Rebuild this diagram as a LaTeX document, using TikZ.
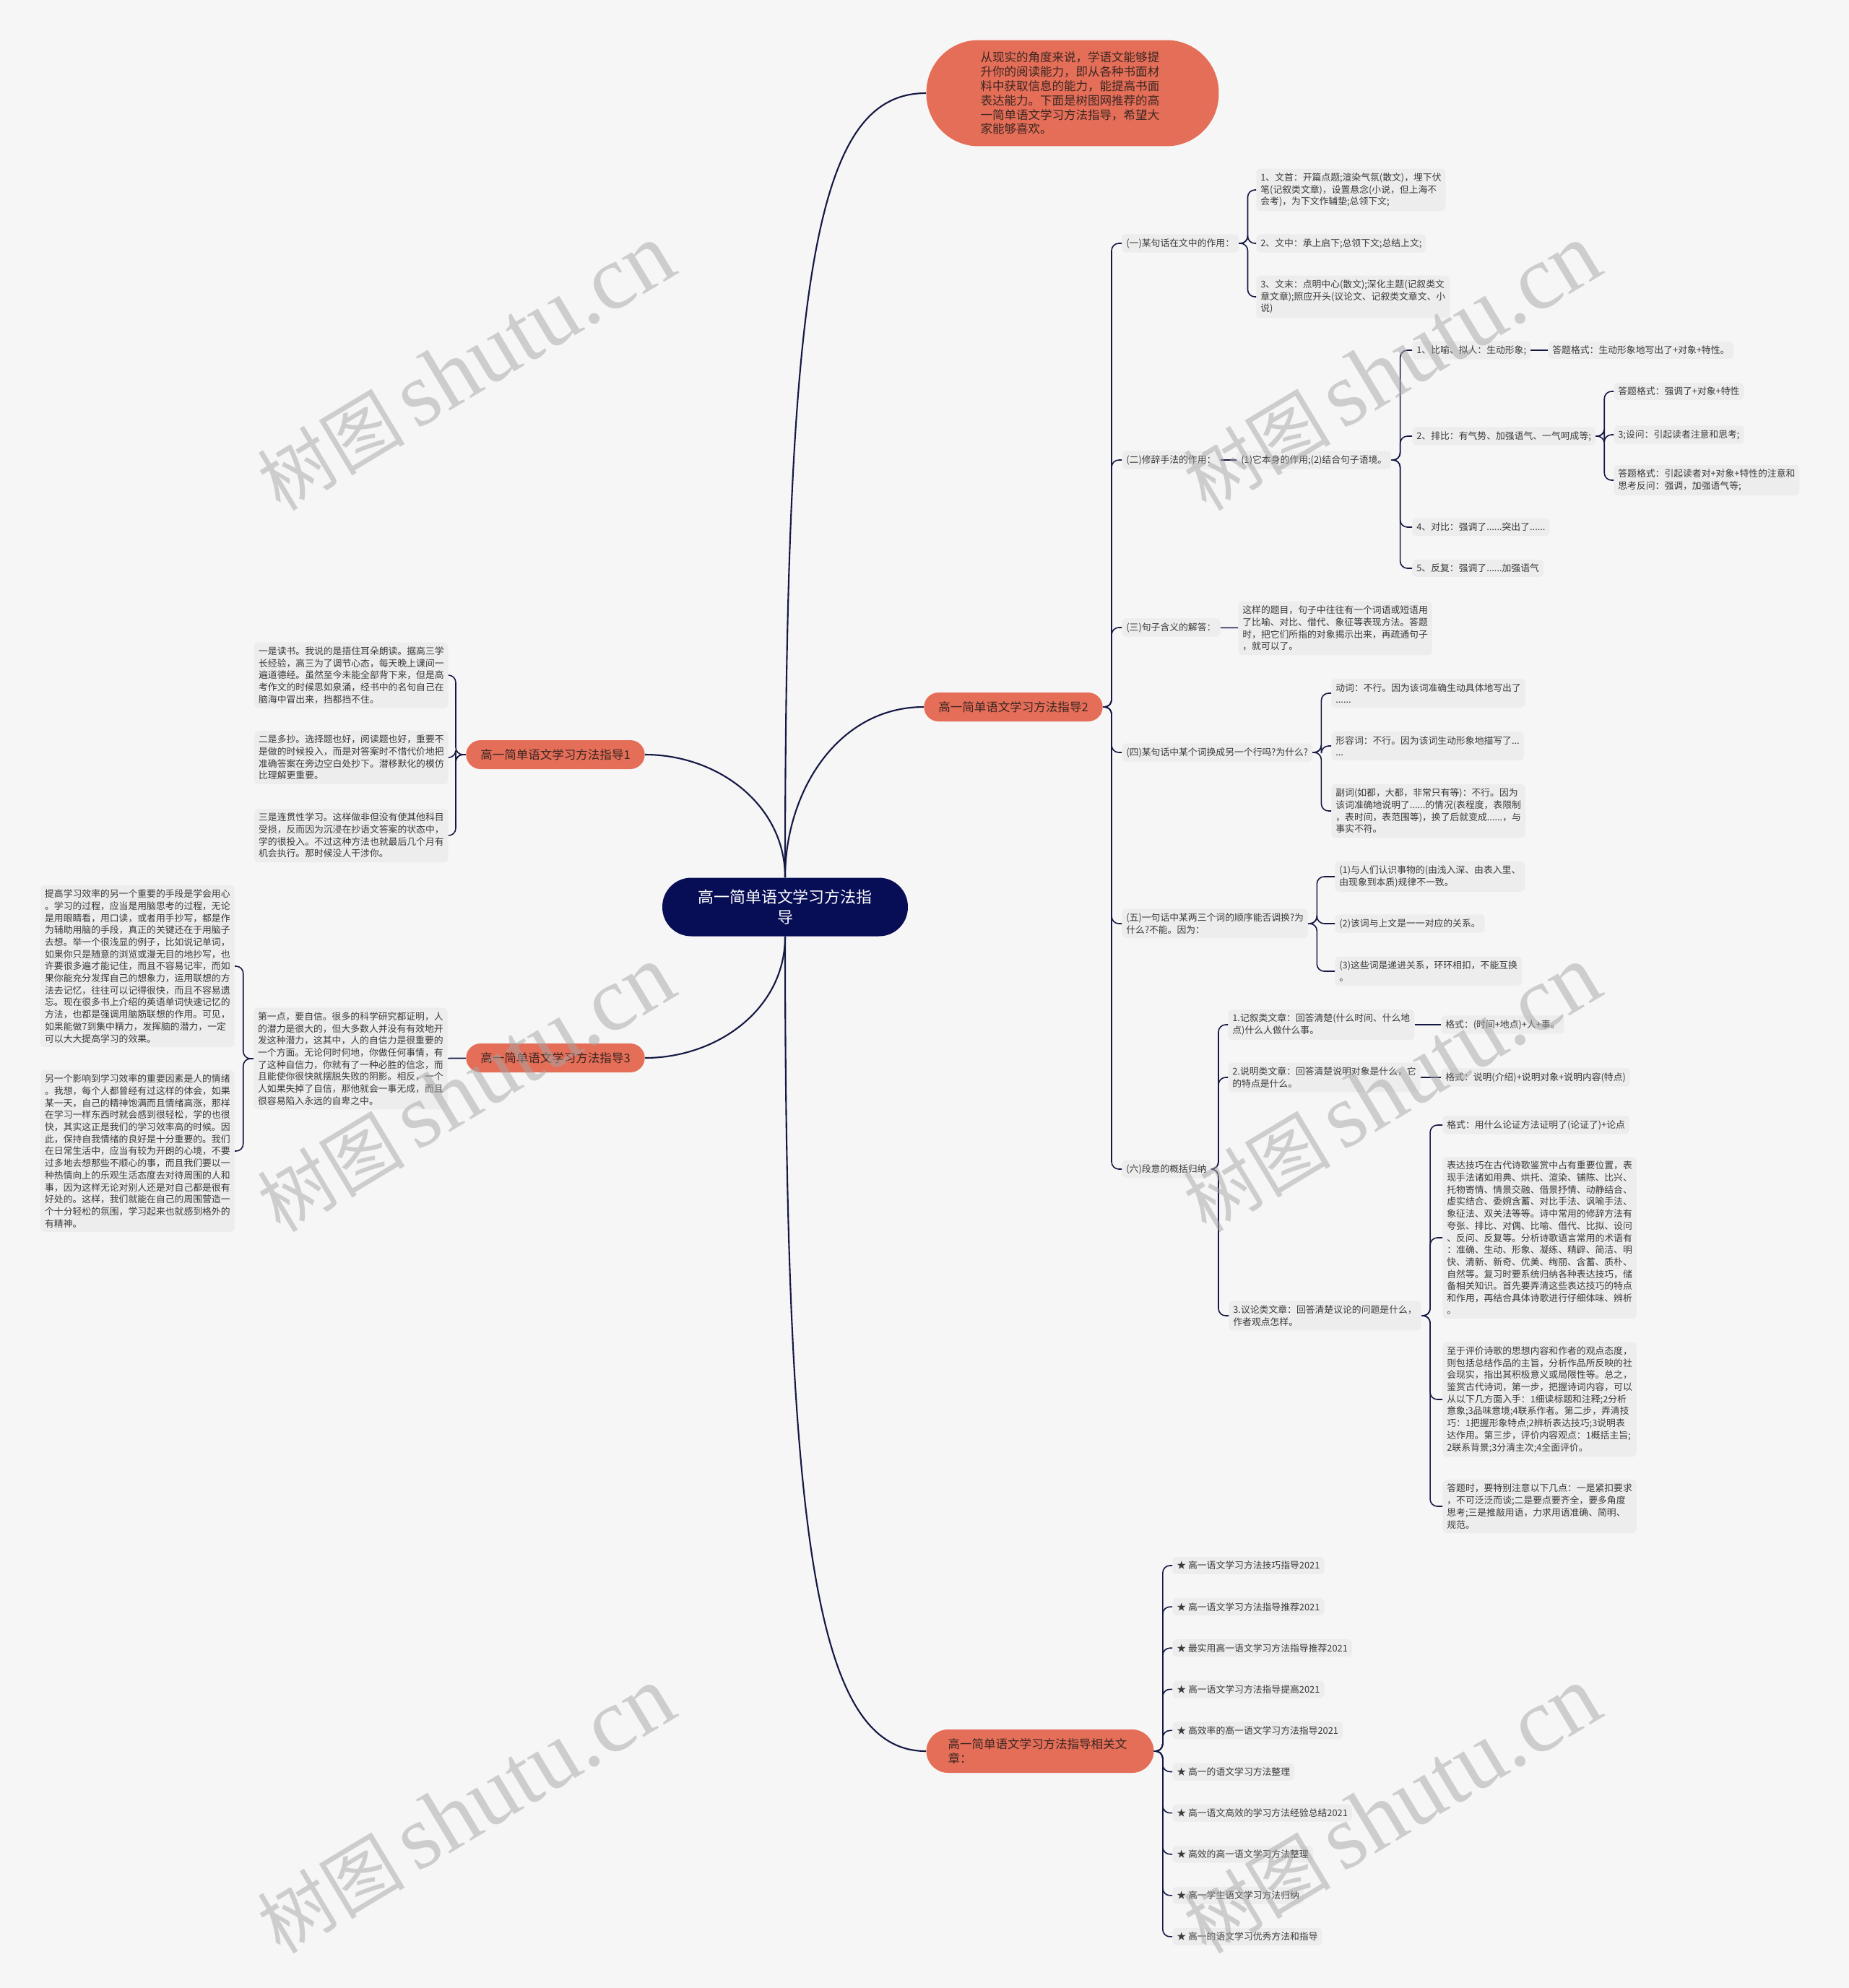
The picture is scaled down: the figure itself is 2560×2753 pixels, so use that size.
\documentclass[tikz,border=0pt]{standalone}
\usepackage{fontspec}
\setmainfont{Noto Sans CJK SC}
\newfontfamily\wmfont{Liberation Serif}
\definecolor{bgcol}{HTML}{F6F6F6}
\definecolor{leafcol}{HTML}{EDEDED}
\definecolor{txtcol}{HTML}{3A3A3A}
\definecolor{orangecol}{HTML}{E46E58}
\definecolor{topictxt}{HTML}{3A2622}
\definecolor{rootcol}{HTML}{080E55}
\definecolor{linecol}{HTML}{141843}

\begin{document}
\begin{tikzpicture}[x=0.02cm, y=-0.02cm,
  leaf/.style={fill=leafcol, rounded corners=0.12cm, align=left, inner xsep=0.12cm, inner ysep=0.12cm, text=txtcol, font=\fontsize{7.3pt}{9.5pt}\selectfont},
  topic/.style={fill=orangecol, rounded corners=0.4cm, minimum height=0.8cm, inner xsep=0.4cm, text=topictxt, font=\fontsize{9.4pt}{11.3pt}\selectfont},
  link/.style={draw=linecol, line width=0.9pt, rounded corners=0.2cm},
  trunk/.style={draw=linecol, line width=1.2pt},
  wmark/.style={text=black!35, text opacity=0.5, rotate=31, font=\fontsize{58pt}{58pt}\selectfont}]
\useasboundingbox (0,0) rectangle (2560,2753);
\fill[bgcol] (0,0) rectangle (2560,2753);

% centre and main topics
\node[fill=rootcol, text=white, rounded corners=0.8cm, minimum width=6.8cm, minimum height=1.62cm, text width=5cm, align=center, font=\fontsize{12.5pt}{16pt}\selectfont] (root) at (1087,1256) {高一简单语文学习方法指\\导};
\node[fill=orangecol, text=topictxt, rounded corners=1.45cm, minimum height=2.94cm, text width=5.1cm, inner xsep=1.5cm, align=left, font=\fontsize{9.4pt}{11.3pt}\selectfont] (intro) at (1485,129) {从现实的角度来说，学语文能够提\\升你的阅读能力，即从各种书面材\\料中获取信息的能力，能提高书面\\表达能力。下面是树图网推荐的高\\一简单语文学习方法指导，希望大\\家能够喜欢。};
\node[topic] (g1) at (769,1045) {高一简单语文学习方法指导1};
\node[topic] (g2) at (1403,979) {高一简单语文学习方法指导2};
\node[topic] (g3) at (769,1465) {高一简单语文学习方法指导3};
\node[topic, rounded corners=0.6cm, minimum height=1.2cm, text width=5.1cm, inner xsep=0.6cm, align=left] (g4) at (1440,2425) {高一简单语文学习方法指导相关文\\章：};

\draw[trunk] (root.north) to[out=90, in=180, out distance=17cm, in distance=3cm] (intro.west);
\draw[trunk] (root.north) to[out=90, in=180] (g2.west);
\draw[trunk] (root.north) to[out=90, in=0] (g1.east);
\draw[trunk] (root.south) to[out=-90, in=0] (g3.east);
\draw[trunk] (root.south) to[out=-90, in=180, out distance=17cm, in distance=3cm] (g4.west);

% topic 2
\node[leaf, anchor=west] (q1) at (1553,337) {(一)某句话在文中的作用：};
\node[leaf, anchor=west] (q2) at (1553,637) {(二)修辞手法的作用：};
\node[leaf, anchor=west] (q3) at (1553,869) {(三)句子含义的解答：};
\node[leaf, anchor=west] (q4) at (1553,1042) {(四)某句话中某个词换成另一个行吗?为什么?};
\node[leaf, anchor=west] (q5) at (1553,1279) {(五)一句话中某两三个词的顺序能否调换?为\\什么?不能。因为：};
\node[leaf, anchor=west] (q6) at (1553,1619) {(六)段意的概括归纳};
\foreach \c in {q1,q2,q3,q4,q5,q6}
  \draw[link] (g2.east) -- ++(12,0) |- (\c.west);

\node[leaf, anchor=west] (q1a) at (1739,263) {1、文首：开篇点题;渲染气氛(散文)，埋下伏\\笔(记叙类文章)，设置悬念(小说，但上海不\\会考)，为下文作辅垫;总领下文;};
\node[leaf, anchor=west] (q1b) at (1739,337) {2、文中：承上启下;总领下文;总结上文;};
\node[leaf, anchor=west] (q1c) at (1739,411) {3、文末：点明中心(散文);深化主题(记叙类文\\章文章);照应开头(议论文、记叙类文章文、小\\说)};
\foreach \c in {q1a,q1b,q1c}
  \draw[link] (q1.east) -- ++(12,0) |- (\c.west);

\node[leaf, anchor=west] (q2x) at (1712,637) {(1)它本身的作用;(2)结合句子语境。};
\draw[link] (q2) -- (q2x);
\node[leaf, anchor=west] (r1) at (1955,485) {1、比喻、拟人：生动形象;};
\node[leaf, anchor=west] (r1f) at (2143,485) {答题格式：生动形象地写出了+对象+特性。};
\node[leaf, anchor=west] (r2) at (1955,604) {2、排比：有气势、加强语气、一气呵成等;};
\node[leaf, anchor=west] (r2a) at (2234,542) {答题格式：强调了+对象+特性};
\node[leaf, anchor=west] (r2b) at (2234,602) {3;设问：引起读者注意和思考;};
\node[leaf, anchor=west] (r2c) at (2234,665) {答题格式：引起读者对+对象+特性的注意和\\思考反问：强调，加强语气等;};
\node[leaf, anchor=west] (r4) at (1955,730) {4、对比：强调了......突出了......};
\node[leaf, anchor=west] (r5) at (1955,787) {5、反复：强调了......加强语气};
\foreach \c in {r1,r2,r4,r5}
  \draw[link] (q2x.east) -- ++(12,0) |- (\c.west);
\draw[link] (r1) -- (r1f);
\foreach \c in {r2a,r2b,r2c}
  \draw[link] (r2.east) -- ++(12,0) |- (\c.west);

\node[leaf, anchor=west] (q3x) at (1714,870) {这样的题目，句子中往往有一个词语或短语用\\了比喻、对比、借代、象征等表现方法。答题\\时，把它们所指的对象揭示出来，再疏通句子\\，就可以了。};
\draw[link] (q3) -- (q3x);

\node[leaf, anchor=west] (q4a) at (1843,960) {动词：不行。因为该词准确生动具体地写出了\\......};
\node[leaf, anchor=west] (q4b) at (1843,1033) {形容词：不行。因为该词生动形象地描写了...\\...};
\node[leaf, anchor=west] (q4c) at (1843,1123) {副词(如都，大都，非常只有等)：不行。因为\\该词准确地说明了......的情况(表程度，表限制\\，表时间，表范围等)，换了后就变成......，与\\事实不符。};
\foreach \c in {q4a,q4b,q4c}
  \draw[link] (q4.east) -- ++(12,0) |- (\c.west);

\node[leaf, anchor=west] (q5a) at (1848,1214) {(1)与人们认识事物的(由浅入深、由表入里、\\由现象到本质)规律不一致。};
\node[leaf, anchor=west] (q5b) at (1848,1279) {(2)该词与上文是一一对应的关系。};
\node[leaf, anchor=west] (q5c) at (1848,1345) {(3)这些词是递进关系，环环相扣，不能互换\\。};
\foreach \c in {q5a,q5b,q5c}
  \draw[link] (q5.east) -- ++(12,0) |- (\c.west);

\node[leaf, anchor=west] (q6a) at (1700,1419) {1.记叙类文章：回答清楚(什么时间、什么地\\点)什么人做什么事。};
\node[leaf, anchor=west] (q6af) at (1995,1419) {格式：(时间+地点)+人+事。};
\node[leaf, anchor=west] (q6b) at (1700,1492) {2.说明类文章：回答清楚说明对象是什么，它\\的特点是什么。};
\node[leaf, anchor=west] (q6bf) at (1995,1492) {格式：说明(介绍)+说明对象+说明内容(特点)};
\node[leaf, anchor=west] (q6c) at (1701,1822) {3.议论类文章：回答清楚议论的问题是什么，\\作者观点怎样。};
\foreach \c in {q6a,q6b,q6c}
  \draw[link] (q6.east) -- ++(10,0) |- (\c.west);
\draw[link] (q6a) -- (q6af);
\draw[link] (q6b) -- (q6bf);

\node[leaf, anchor=west] (q6c1) at (1997,1558) {格式：用什么论证方法证明了(论证了)+论点};
\node[leaf, anchor=west] (q6c2) at (1997,1714) {表达技巧在古代诗歌鉴赏中占有重要位置，表\\现手法诸如用典、烘托、渲染、铺陈、比兴、\\托物寄情、情景交融、借景抒情、动静结合、\\虚实结合、委婉含蓄、对比手法、讽喻手法、\\象征法、双关法等等。诗中常用的修辞方法有\\夸张、排比、对偶、比喻、借代、比拟、设问\\、反问、反复等。分析诗歌语言常用的术语有\\：准确、生动、形象、凝练、精辟、简洁、明\\快、清新、新奇、优美、绚丽、含蓄、质朴、\\自然等。复习时要系统归纳各种表达技巧，储\\备相关知识。首先要弄清这些表达技巧的特点\\和作用，再结合具体诗歌进行仔细体味、辨析\\。};
\node[leaf, anchor=west] (q6c3) at (1997,1938) {至于评价诗歌的思想内容和作者的观点态度，\\则包括总结作品的主旨，分析作品所反映的社\\会现实，指出其积极意义或局限性等。总之，\\鉴赏古代诗词，第一步，把握诗词内容，可以\\从以下几方面入手：1细读标题和注释;2分析\\意象;3品味意境;4联系作者。第二步，弄清技\\巧：1把握形象特点;2辨析表达技巧;3说明表\\达作用。第三步，评价内容观点：1概括主旨;\\2联系背景;3分清主次;4全面评价。};
\node[leaf, anchor=west] (q6c4) at (1997,2086) {答题时，要特别注意以下几点：一是紧扣要求\\，不可泛泛而谈;二是要点要齐全，要多角度\\思考;三是推敲用语，力求用语准确、简明、\\规范。};
\foreach \c in {q6c1,q6c2,q6c3,q6c4}
  \draw[link] (q6c.east) -- ++(12,0) |- (\c.west);

% topic 1
\node[leaf, anchor=east] (m1) at (621,935) {一是读书。我说的是捂住耳朵朗读。据高三学\\长经验，高三为了调节心态，每天晚上课间一\\遍道德经。虽然至今未能全部背下来，但是高\\考作文的时候思如泉涌，经书中的名句自己在\\脑海中冒出来，挡都挡不住。};
\node[leaf, anchor=east] (m2) at (621,1049) {二是多抄。选择题也好，阅读题也好，重要不\\是做的时候投入，而是对答案时不惜代价地把\\准确答案在旁边空白处抄下。潜移默化的模仿\\比理解更重要。};
\node[leaf, anchor=east] (m3) at (621,1157) {三是连贯性学习。这样做非但没有使其他科目\\受损，反而因为沉浸在抄语文答案的状态中，\\学的很投入。不过这种方法也就最后几个月有\\机会执行。那时候没人干涉你。};
\foreach \c in {m1,m2,m3}
  \draw[link] (g1.west) -- ++(-14,0) |- (\c.east);

% topic 3
\node[leaf, anchor=east] (t1) at (620,1466) {第一点，要自信。很多的科学研究都证明，人\\的潜力是很大的，但大多数人并没有有效地开\\发这种潜力，这其中，人的自信力是很重要的\\一个方面。无论何时何地，你做任何事情，有\\了这种自信力，你就有了一种必胜的信念，而\\且能使你很快就摆脱失败的阴影。相反，一个\\人如果失掉了自信，那他就会一事无成，而且\\很容易陷入永远的自卑之中。};
\draw[link] (g3) -- (t1);
\node[leaf, anchor=east] (t1a) at (325,1338) {提高学习效率的另一个重要的手段是学会用心\\。学习的过程，应当是用脑思考的过程，无论\\是用眼睛看，用口读，或者用手抄写，都是作\\为辅助用脑的手段，真正的关键还在于用脑子\\去想。举一个很浅显的例子，比如说记单词，\\如果你只是随意的浏览或漫无目的地抄写，也\\许要很多遍才能记住，而且不容易记牢，而如\\果你能充分发挥自己的想象力，运用联想的方\\法去记忆，往往可以记得很快，而且不容易遗\\忘。现在很多书上介绍的英语单词快速记忆的\\方法，也都是强调用脑筋联想的作用。可见，\\如果能做7到集中精力，发挥脑的潜力，一定\\可以大大提高学习的效果。};
\node[leaf, anchor=east] (t1b) at (325,1594) {另一个影响到学习效率的重要因素是人的情绪\\。我想，每个人都曾经有过这样的体会，如果\\某一天，自己的精神饱满而且情绪高涨，那样\\在学习一样东西时就会感到很轻松，学的也很\\快，其实这正是我们的学习效率高的时候。因\\此，保持自我情绪的良好是十分重要的。我们\\在日常生活中，应当有较为开朗的心境，不要\\过多地去想那些不顺心的事，而且我们要以一\\种热情向上的乐观生活态度去对待周围的人和\\事，因为这样无论对别人还是对自己都是很有\\好处的。这样，我们就能在自己的周围营造一\\个十分轻松的氛围，学习起来也就感到格外的\\有精神。};
\foreach \c in {t1a,t1b}
  \draw[link] (t1.west) -- ++(-14,0) |- (\c.east);

% topic 4
\foreach \i/\t in {1/高一语文学习方法技巧指导2021, 2/高一语文学习方法指导推荐2021, 3/最实用高一语文学习方法指导推荐2021, 4/高一语文学习方法指导提高2021, 5/高效率的高一语文学习方法指导2021, 6/高一的语文学习方法整理, 7/高一语文高效的学习方法经验总结2021, 8/高效的高一语文学习方法整理, 9/高一学生语文学习方法归纳, 10/高一的语文学习优秀方法和指导}
  \node[leaf, anchor=west] (a\i) at (1623,{2168+57.1*(\i-1)}) {★ \t};
\foreach \i in {1,...,10}
  \draw[link] (g4.east) -- ++(12,0) |- (a\i.west);

% watermarks
\foreach \wx/\wy [count=\k] in {645/509, 1927/509, 645/1508, 1927/1508, 645/2507, 1927/2507}
  \node[wmark] (w\k) at (\wx,\wy) {树图\,{\wmfont\fontsize{72pt}{72pt}\selectfont shutu.cn}};
\end{tikzpicture}
\end{document}
